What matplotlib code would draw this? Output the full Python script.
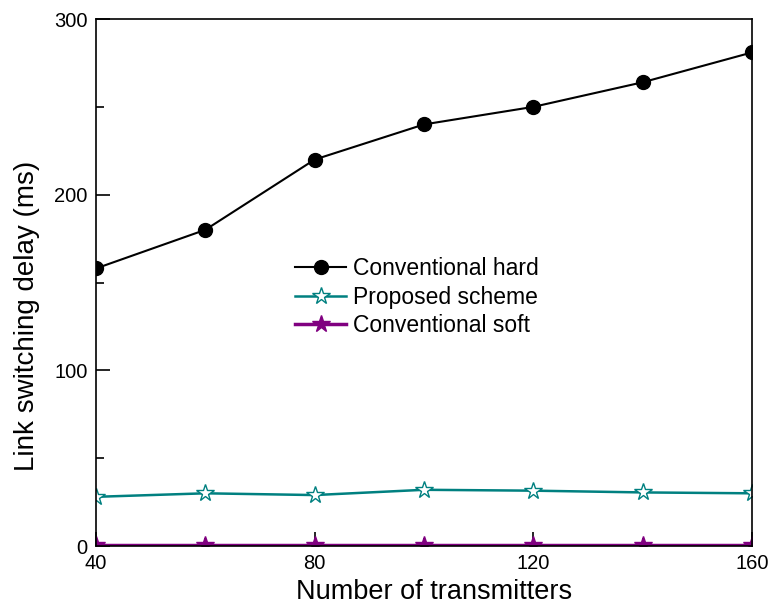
import numpy as np
import matplotlib
matplotlib.use("Agg")
import matplotlib.pyplot as plt
from matplotlib.ticker import MultipleLocator

plt.rcParams['font.family'] = ['Liberation Sans', 'DejaVu Sans']

# data
transmitters = [40, 60, 80, 100, 120, 140, 160]
conv_hard = [158, 180, 220, 240, 250, 264, 281]
proposed = [28, 30, 29, 32, 31.5, 30.5, 30]
conv_soft = [0.3, 0.3, 0.3, 0.3, 0.3, 0.3, 0.3]

fig = plt.figure(figsize=(7.69, 6.06), dpi=100)
ax = fig.add_axes([0.1248, 0.099, 0.8532, 0.8696])

ax.plot(transmitters, conv_hard, color='black', marker='o', markersize=10,
        linewidth=1.5, label='Conventional hard')
ax.plot(transmitters, proposed, color='#008080', marker='*', markersize=13,
        markerfacecolor='white', markeredgewidth=1, linewidth=1.8,
        label='Proposed scheme')
ax.plot(transmitters, conv_soft, color='#800080', marker='*', markersize=13,
        linewidth=2.5, label='Conventional soft')

ax.set_xlim(40, 160)
ax.set_ylim(0, 300)
ax.xaxis.set_major_locator(MultipleLocator(40))
ax.xaxis.set_minor_locator(MultipleLocator(20))
ax.yaxis.set_major_locator(MultipleLocator(100))
ax.yaxis.set_minor_locator(MultipleLocator(50))
ax.tick_params(which='both', direction='in', top=False, right=False,
               labelsize=14.5, width=1.2, pad=6)
ax.tick_params(which='major', length=10)
ax.tick_params(which='minor', length=6)
for s in ax.spines.values():
    s.set_linewidth(1.2)

ax.set_xlabel('Number of transmitters', fontsize=19.5, labelpad=6)
ax.set_ylabel('Link switching delay (ms)', fontsize=20, labelpad=10)
ax.xaxis.set_label_coords(0.515, -0.062)
ax.yaxis.label.set_y(0.436)

ax.legend(loc='upper left', bbox_to_anchor=(0.29, 0.565), frameon=False,
          fontsize=16.5, handlelength=2.2, handletextpad=0.3, labelspacing=0.24,
          borderaxespad=0)

fig.savefig('out.png', dpi=100)
